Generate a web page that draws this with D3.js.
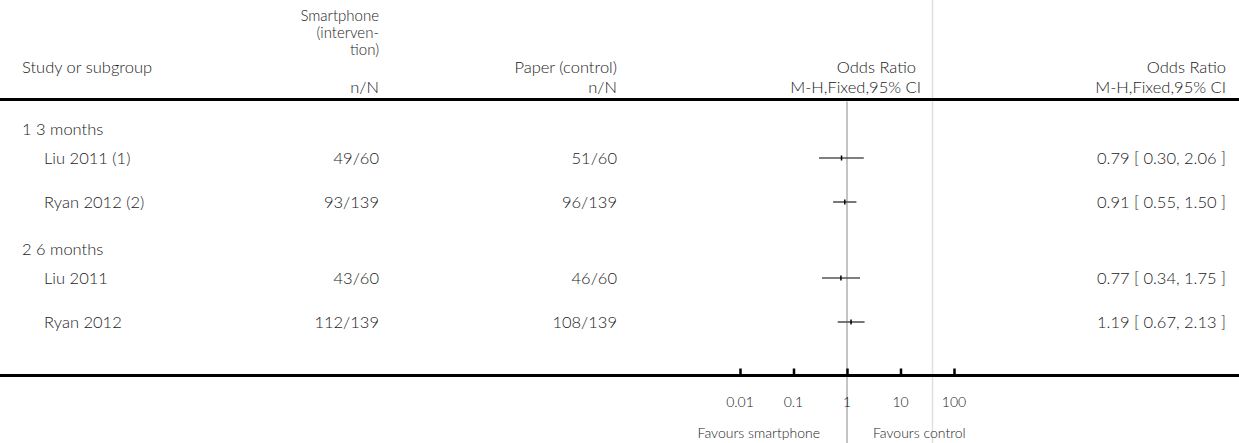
<!DOCTYPE html>
<html>
<head>
<meta charset="utf-8">
<script src="https://cdn.jsdelivr.net/npm/d3@7"></script>
<style>
  html, body { margin: 0; padding: 0; background: #fff; }
  svg { display: block; }
  text { font-family: Lato, "Open Sans", sans-serif; font-weight: 300; fill: #1a1a1a; }
</style>
</head>
<body>
<svg id="chart" width="1239" height="443"></svg>
<script>
// Subgroups and the studies inside them
const groupLabels = ["1 3 months", "2 6 months"];
const studyLabels = ["Liu 2011 (1)", "Ryan 2012 (2)", "Liu 2011", "Ryan 2012"];
const studyGroup = [0, 0, 1, 1];

// Event counts: smartphone (intervention) and paper (control)
const smartEvents = [49, 93, 43, 112];
const smartTotals = [60, 139, 60, 139];
const paperEvents = [51, 96, 46, 108];
const paperTotals = [60, 139, 60, 139];

// Mantel-Haenszel fixed-effect odds ratios with 95% CI
const oddsRatio = [0.79, 0.91, 0.77, 1.19];
const ciLower = [0.30, 0.55, 0.34, 0.67];
const ciUpper = [2.06, 1.50, 1.75, 2.13];

// Log axis ticks
const tickValues = [0.01, 0.1, 1, 10, 100];
const tickLabels = ["0.01", "0.1", "1", "10", "100"];

const W = 1239, H = 443;
const svg = d3.select("#chart");

const fs = 16.5;
const colIntervention = 379;
const colControl = 617;
const colPlotHead = 921;
const colCIText = 1226;

// Log scale for the forest plot
const x = d3.scaleLog().domain([0.01, 100]).range([740, 954]);

// Row layout: group header, then its studies
const rows = [];
let yCur = 129;
groupLabels.forEach((g, gi) => {
  if (gi > 0) yCur += 47;
  rows.push({ type: "group", label: g, y: yCur });
  yCur += 29;
  studyLabels.forEach((s, i) => {
    if (studyGroup[i] !== gi) return;
    rows.push({ type: "study", i, y: yCur });
    yCur += 44;
  });
  yCur -= 44;
});

const axisY = 375.5;
const headLineY = 99.5;

// Light reference line right of the plot
svg.append("line")
  .attr("x1", 932.5).attr("x2", 932.5).attr("y1", 0).attr("y2", H)
  .attr("stroke", "#e0e0e0").attr("stroke-width", 1.5);

// Line of no effect
svg.append("line")
  .attr("x1", x(1)).attr("x2", x(1)).attr("y1", headLineY + 2).attr("y2", H)
  .attr("stroke", "#b0b0b0").attr("stroke-width", 1.5);

// Header text
const head = svg.append("g").attr("font-size", fs);
head.append("text").attr("x", 22).attr("y", 73).text("Study or subgroup");
// Wrapped intervention column heading
["Smartphone", "(interven-", "tion)"].forEach((t, k) => {
  head.append("text").attr("x", colIntervention).attr("y", 21 + k * 17)
    .attr("font-size", 15).attr("text-anchor", "end").text(t);
});
head.append("text").attr("x", colIntervention).attr("y", 93).attr("text-anchor", "end").text("n/N");
head.append("text").attr("x", colControl).attr("y", 73).attr("text-anchor", "end").text("Paper (control)");
head.append("text").attr("x", colControl).attr("y", 93).attr("text-anchor", "end").text("n/N");
head.append("text").attr("x", colPlotHead - 5).attr("y", 73).attr("text-anchor", "end").text("Odds Ratio");
head.append("text").attr("x", colPlotHead).attr("y", 93).attr("text-anchor", "end").text("M-H,Fixed,95% CI");
head.append("text").attr("x", colCIText).attr("y", 73).attr("text-anchor", "end").text("Odds Ratio");
head.append("text").attr("x", colCIText).attr("y", 93).attr("text-anchor", "end").text("M-H,Fixed,95% CI");

// Header rule
svg.append("line")
  .attr("x1", 0).attr("x2", W).attr("y1", headLineY).attr("y2", headLineY)
  .attr("stroke", "#000").attr("stroke-width", 3);

// Rows
const body = svg.append("g").attr("font-size", fs);
rows.forEach(r => {
  if (r.type === "group") {
    body.append("text").attr("x", 22).attr("y", r.y + 6).text(r.label);
    return;
  }
  const i = r.i;
  body.append("text").attr("x", 44).attr("y", r.y + 6).text(studyLabels[i]);
  body.append("text").attr("x", colIntervention).attr("y", r.y + 6).attr("text-anchor", "end")
    .text(smartEvents[i] + "/" + smartTotals[i]);
  body.append("text").attr("x", colControl).attr("y", r.y + 6).attr("text-anchor", "end")
    .text(paperEvents[i] + "/" + paperTotals[i]);
  body.append("text").attr("x", colCIText).attr("y", r.y + 6).attr("text-anchor", "end")
    .text(`${oddsRatio[i].toFixed(2)} [ ${ciLower[i].toFixed(2)}, ${ciUpper[i].toFixed(2)} ]`);

  // Confidence interval and point estimate
  body.append("line")
    .attr("x1", x(ciLower[i])).attr("x2", x(ciUpper[i]))
    .attr("y1", r.y).attr("y2", r.y)
    .attr("stroke", "#555").attr("stroke-width", 1.6);
  body.append("line")
    .attr("x1", x(oddsRatio[i])).attr("x2", x(oddsRatio[i]))
    .attr("y1", r.y - 2.5).attr("y2", r.y + 2.5)
    .attr("stroke", "#000").attr("stroke-width", 1.5);
});

// Bottom axis rule across the full width
svg.append("line")
  .attr("x1", 0).attr("x2", W).attr("y1", axisY).attr("y2", axisY)
  .attr("stroke", "#000").attr("stroke-width", 3);

// Ticks via d3 axis, labels drawn beneath
const axis = d3.axisTop(x).tickValues(tickValues).tickSize(7).tickFormat(() => "");
const axG = svg.append("g").attr("transform", `translate(0,${axisY})`).call(axis);
axG.select(".domain").remove();
axG.selectAll(".tick line").attr("stroke", "#000").attr("stroke-width", 2.5);

const labG = svg.append("g").attr("font-size", 14);
tickValues.forEach((v, k) => {
  labG.append("text").attr("x", x(v)).attr("y", 407).attr("text-anchor", "middle").text(tickLabels[k]);
});

// Direction labels
svg.append("text").attr("x", x(1) - 27).attr("y", 438).attr("font-size", 14)
  .attr("text-anchor", "end").text("Favours smartphone");
svg.append("text").attr("x", x(1) + 26).attr("y", 438).attr("font-size", 14)
  .attr("text-anchor", "start").text("Favours control");
</script>
</body>
</html>
